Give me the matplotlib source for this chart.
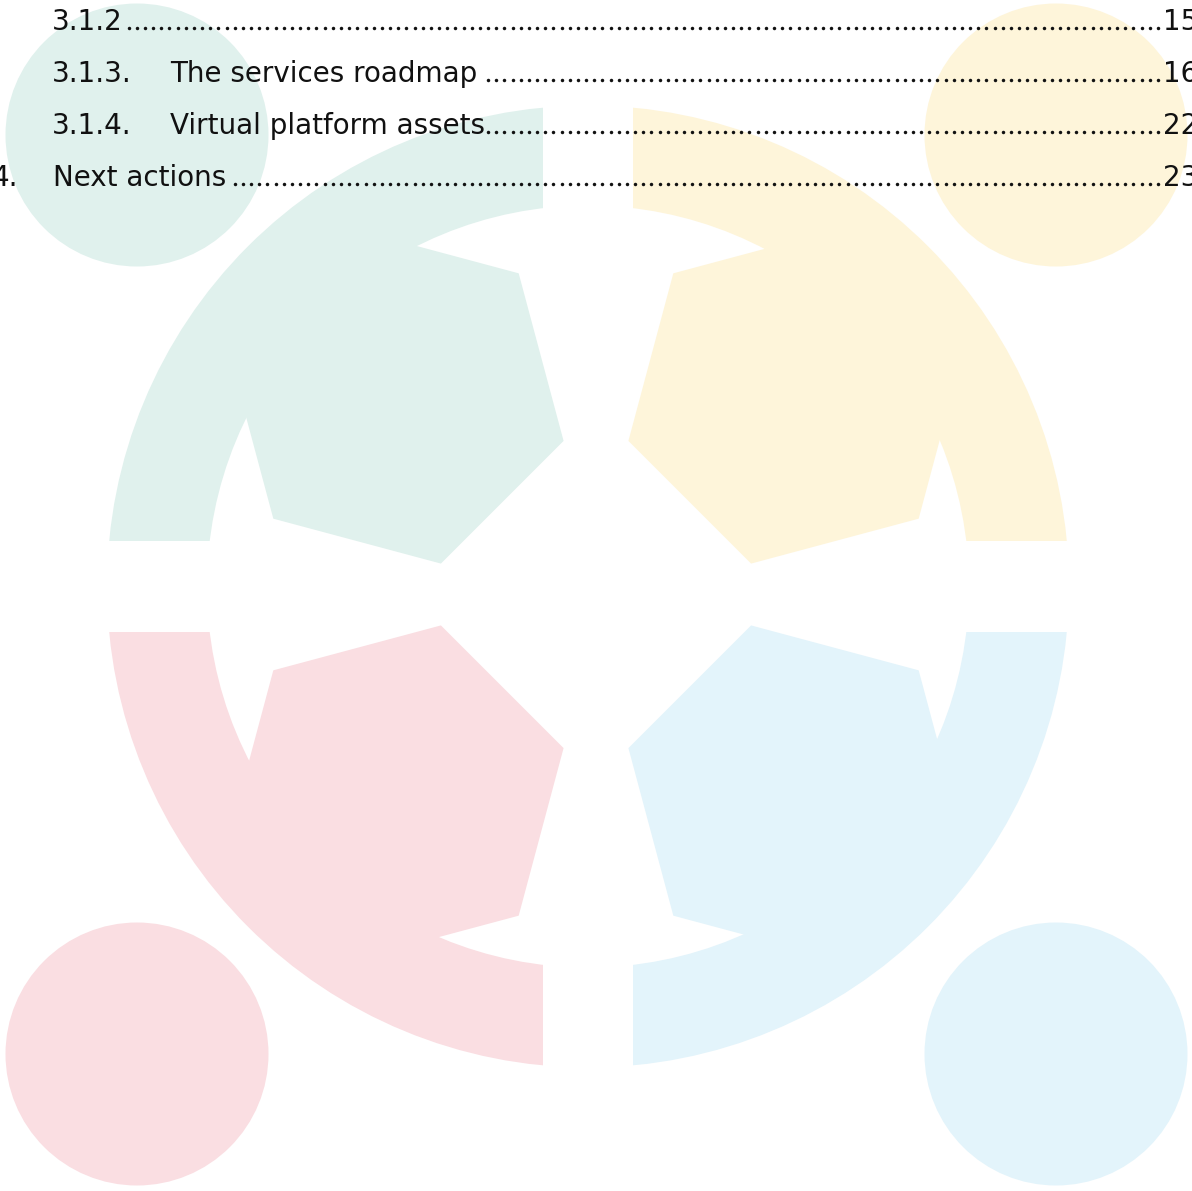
import numpy as np
import matplotlib
matplotlib.use('Agg')
import matplotlib.pyplot as plt
from matplotlib.patches import Wedge, Circle, RegularPolygon, Rectangle

# table of contents lines
toc_numbers = ['3.1.2', '3.1.3.', '3.1.4.', '4.']
toc_titles = ['', 'The services roadmap', 'Virtual platform assets', 'Next actions']
toc_pages = ['15', '16', '22', '23']
toc_baselines = [29.5, 81.5, 133.5, 185.5]

# logo quadrants: top-left, top-right, bottom-left, bottom-right
quad_colors = ['#e0f1ed', '#fef5da', '#fadee2', '#e3f4fb']
circle_centers = [(137, 135), (1056, 135), (137, 1054), (1056, 1054)]
hex_centers = [(396, 396), (796, 396), (396, 793), (796, 793)]
hex_orient = [-15, 15, 15, -15]

W, H = 1192, 1191
cx, cy = 588, 586.5
r_out, r_in = 481, 381
gap_l, gap_r = 543, 633
gap_t, gap_b = 541, 632

fig = plt.figure(figsize=(W / 100, H / 100), dpi=100)
ax = fig.add_axes([0, 0, 1, 1])
ax.set_xlim(0, W)
ax.set_ylim(H, 0)
ax.axis('off')

# clipping boxes for the four annulus pieces
boxes = [(0, 0, gap_l, gap_t), (gap_r, 0, W - gap_r, gap_t),
         (0, gap_b, gap_l, H - gap_b), (gap_r, gap_b, W - gap_r, H - gap_b)]
angles = [(180, 270), (270, 360), (90, 180), (0, 90)]

for i in range(4):
    wd = Wedge((cx, cy), r_out, angles[i][0], angles[i][1], width=r_out - r_in,
               facecolor=quad_colors[i], edgecolor='none', zorder=1)
    ax.add_patch(wd)
    bx = boxes[i]
    clip = Rectangle((bx[0], bx[1]), bx[2], bx[3], transform=ax.transData)
    wd.set_clip_path(clip)

    hx = RegularPolygon(hex_centers[i], numVertices=6, radius=173.5,
                        orientation=np.deg2rad(hex_orient[i]),
                        facecolor=quad_colors[i], edgecolor='none', zorder=1)
    ax.add_patch(hx)

    ax.add_patch(Circle(circle_centers[i], 131.5, facecolor=quad_colors[i],
                        edgecolor='none', zorder=1))

# text lines with dotted leaders
fs = 20
fig.canvas.draw()
renderer = fig.canvas.get_renderer()
dot_step = 8.17
dot_grid = np.arange(1158, 100, -dot_step)

for i in range(len(toc_numbers)):
    y = toc_baselines[i]
    if toc_numbers[i] == '4.':
        t_num = ax.text(18, y, toc_numbers[i], ha='right', va='baseline', fontsize=fs, color='#111111', zorder=3)
        t_title = ax.text(53, y, toc_titles[i], ha='left', va='baseline', fontsize=fs, color='#111111', zorder=3)
    else:
        t_num = ax.text(52, y, toc_numbers[i], ha='left', va='baseline', fontsize=fs, color='#111111', zorder=3)
        t_title = ax.text(170, y, toc_titles[i], ha='left', va='baseline', fontsize=fs, color='#111111', zorder=3)
    ax.text(1163, y, toc_pages[i], ha='left', va='baseline', fontsize=fs, color='#111111', zorder=3)

    last = t_title if toc_titles[i] else t_num
    bb = last.get_window_extent(renderer=renderer)
    x_end = ax.transData.inverted().transform((bb.x1, bb.y0))[0]
    xs = dot_grid[dot_grid > x_end + 3]
    ax.plot(xs, np.full(len(xs), y - 1.5), linestyle='none', marker='o',
            markersize=2.5, color='#111111', markeredgewidth=0, zorder=3)

fig.savefig('out.png', dpi=100)
